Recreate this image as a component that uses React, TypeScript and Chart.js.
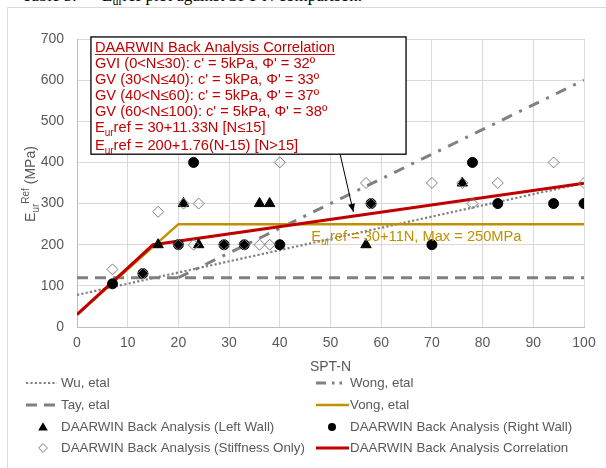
import React, { useEffect, useRef } from "react";
import { Chart, registerables } from "chart.js";
Chart.register(...registerables);

const FONT = "'Liberation Sans', Arial, sans-serif";
const GREY_TEXT = "#595959";
const RED = "#C00000";
const GOLD = "#BF9000";
const LINE_GREY = "#808080";

// ---- data ----
const wuN = [0, 100];
const wuE = [78, 350];
const wongN = [20, 100];
const wongE = [120, 600];
const tayN = [0, 100];
const tayE = [120, 120];
const vongN = [0, 20, 100];
const vongE = [30, 250, 250];
const corrN = [0, 15, 100];
const corrE = [30, 200, 349.6];
const leftWallN = [16, 21, 24, 36, 38, 57, 76];
const leftWallE = [200, 300, 200, 300, 300, 200, 350];
const rightWallN = [7, 13, 20, 23, 29, 33, 40, 58, 70, 78, 83, 94, 100];
const rightWallE = [105, 130, 200, 400, 200, 200, 200, 300, 200, 400, 300, 300, 300];
const stiffN = [7, 13, 16, 20, 21, 23, 24, 29, 33, 36, 38, 40, 57, 58, 70, 76, 78, 83, 94, 100];
const stiffE = [140, 130, 280, 200, 300, 200, 300, 200, 200, 200, 200, 400, 350, 300, 350, 350, 300, 350, 400, 350];

const legendLabels = [
  "Wu, etal",
  "Wong, etal",
  "Tay, etal",
  "Vong, etal",
  "DAARWIN Back Analysis (Left Wall)",
  "DAARWIN Back Analysis (Right Wall)",
  "DAARWIN Back Analysis (Stiffness Only)",
  "DAARWIN Back Analysis Correlation",
];

const boxTitle = "DAARWIN Back Analysis Correlation";
const boxLines = [
  "GVI (0<N\u226430): c' = 5kPa, \u03A6' = 32\u00BA",
  "GV (30<N\u226440): c' = 5kPa, \u03A6' = 33\u00BA",
  "GV (40<N\u226460): c' = 5kPa, \u03A6' = 37\u00BA",
  "GV (60<N\u2264100): c' = 5kPa, \u03A6' = 38\u00BA",
];
const boxFormulas = ["ref = 30+11.33N [N\u226415]", "ref = 200+1.76(N-15) [N>15]"];
const vongNote = "ref = 30+11N, Max = 250MPa";

const pts = (xs: number[], ys: number[]) => xs.map((x, i) => ({ x, y: ys[i] }));

type Part = { t: string; size: number; dy?: number };
function drawRich(ctx: CanvasRenderingContext2D, x: number, y: number, parts: Part[], color: string) {
  ctx.fillStyle = color;
  ctx.textAlign = "left";
  ctx.textBaseline = "alphabetic";
  let cx = x;
  for (const p of parts) {
    ctx.font = `${p.size}px ${FONT}`;
    ctx.fillText(p.t, cx, y + (p.dy || 0));
    cx += ctx.measureText(p.t).width;
  }
  return cx - x;
}
function richWidth(ctx: CanvasRenderingContext2D, parts: Part[]) {
  let w = 0;
  for (const p of parts) {
    ctx.font = `${p.size}px ${FONT}`;
    w += ctx.measureText(p.t).width;
  }
  return w;
}

const customPlugin = {
  id: "customDecor",
  beforeDraw(chart: any) {
    const ctx = chart.ctx;
    ctx.save();
    ctx.strokeStyle = "#d9d9d9";
    ctx.lineWidth = 1;
    ctx.beginPath();
    ctx.moveTo(7.5, 470);
    ctx.lineTo(7.5, 7.5);
    ctx.lineTo(610, 7.5);
    ctx.stroke();
    ctx.restore();
  },
  afterDatasetsDraw(chart: any) {
    const ctx = chart.ctx;
    const xs = chart.scales.x;
    const ys = chart.scales.y;
    ctx.save();
    // gold note
    const gx = xs.getPixelForValue(46.2);
    const gy = ys.getPixelForValue(208);
    drawRich(ctx, gx, gy, [
      { t: "E", size: 14.67 },
      { t: "ur", size: 10, dy: 4 },
      { t: vongNote, size: 14.67 },
    ], GOLD);

    // text box
    const bl = xs.getPixelForValue(2.75);
    const br = xs.getPixelForValue(64.9);
    const bt = ys.getPixelForValue(705);
    const bb = ys.getPixelForValue(420);
    ctx.fillStyle = "#ffffff";
    ctx.fillRect(bl, bt, br - bl, bb - bt);
    ctx.strokeStyle = "#000000";
    ctx.lineWidth = 1.3;
    ctx.strokeRect(bl, bt, br - bl, bb - bt);

    const tx = bl + 4;
    ctx.font = `14.67px ${FONT}`;
    ctx.fillStyle = RED;
    ctx.textBaseline = "alphabetic";
    ctx.textAlign = "left";
    ctx.fillText(boxTitle, tx, bt + 15);
    const tw = ctx.measureText(boxTitle).width;
    ctx.strokeStyle = RED;
    ctx.lineWidth = 1;
    ctx.beginPath();
    ctx.moveTo(tx, bt + 17.5);
    ctx.lineTo(tx + tw, bt + 17.5);
    ctx.stroke();
    boxLines.forEach((l, i) => {
      ctx.font = `14.67px ${FONT}`;
      ctx.fillStyle = RED;
      ctx.fillText(l, tx, bt + 31 + i * 16);
    });
    boxFormulas.forEach((f, i) => {
      drawRich(ctx, tx, bt + 95 + i * 18, [
        { t: "E", size: 14.67 },
        { t: "ur", size: 10, dy: 4 },
        { t: f, size: 14.67 },
      ], RED);
    });

    // arrow
    const ax0 = xs.getPixelForValue(51.9);
    const ay0 = bb;
    const ax1 = xs.getPixelForValue(54.5);
    const ay1 = ys.getPixelForValue(280);
    ctx.strokeStyle = "#000";
    ctx.fillStyle = "#000";
    ctx.lineWidth = 1;
    ctx.beginPath();
    ctx.moveTo(ax0, ay0);
    ctx.lineTo(ax1, ay1);
    ctx.stroke();
    const ang = Math.atan2(ay1 - ay0, ax1 - ax0);
    const hl = 8, hw = 3.5;
    ctx.beginPath();
    ctx.moveTo(ax1, ay1);
    ctx.lineTo(ax1 - hl * Math.cos(ang) + hw * Math.sin(ang), ay1 - hl * Math.sin(ang) - hw * Math.cos(ang));
    ctx.lineTo(ax1 - hl * Math.cos(ang) - hw * Math.sin(ang), ay1 - hl * Math.sin(ang) + hw * Math.cos(ang));
    ctx.closePath();
    ctx.fill();
    ctx.restore();
  },
  afterDraw(chart: any) {
    const ctx = chart.ctx;
    const area = chart.chartArea;
    ctx.save();
    // y title
    const yParts: Part[] = [
      { t: "E", size: 14 },
      { t: "ur", size: 10, dy: 4 },
      { t: "Ref", size: 10, dy: -6 },
      { t: " (MPa)", size: 14 },
    ];
    const w = richWidth(ctx, yParts);
    ctx.translate(35, (area.top + area.bottom) / 2 + 1);
    ctx.rotate(-Math.PI / 2);
    drawRich(ctx, -w / 2, 0, yParts, GREY_TEXT);
    ctx.restore();

    ctx.save();
    ctx.font = `14px ${FONT}`;
    ctx.fillStyle = GREY_TEXT;
    ctx.textAlign = "center";
    ctx.textBaseline = "middle";
    ctx.fillText("SPT-N", (area.left + area.right) / 2, 367);

    // legend
    const rows = [383, 405, 427, 448];
    const cols = [
      { l0: 26, l1: 57, mx: 43, tx: 61 },
      { l0: 316, l1: 349, mx: 332, tx: 350 },
    ];
    const ds = chart.data.datasets;
    const order = [0, 1, 2, 3, 4, 5, 6, 7];
    order.forEach((di, k) => {
      const d = ds[di];
      const r = rows[Math.floor(k / 2)];
      const c = cols[k % 2];
      ctx.save();
      if (d.showLine) {
        ctx.strokeStyle = d.borderColor;
        ctx.lineWidth = d.borderWidth;
        ctx.setLineDash(d.legendDash || d.borderDash || []);
        ctx.beginPath();
        ctx.moveTo(c.l0, r);
        ctx.lineTo(c.l1, r);
        ctx.stroke();
      } else {
        const style = d.pointStyle;
        const rad = d.pointRadius * 0.8;
        if (style === "triangle") {
          ctx.fillStyle = "#000";
          ctx.beginPath();
          ctx.moveTo(c.mx, r - rad);
          ctx.lineTo(c.mx + rad, r + rad * 0.75);
          ctx.lineTo(c.mx - rad, r + rad * 0.75);
          ctx.closePath();
          ctx.fill();
        } else if (style === "circle") {
          ctx.fillStyle = "#000";
          ctx.beginPath();
          ctx.arc(c.mx, r, rad, 0, Math.PI * 2);
          ctx.fill();
        } else {
          ctx.strokeStyle = d.borderColor;
          ctx.lineWidth = 1;
          ctx.beginPath();
          ctx.moveTo(c.mx, r - rad);
          ctx.lineTo(c.mx + rad, r);
          ctx.lineTo(c.mx, r + rad);
          ctx.lineTo(c.mx - rad, r);
          ctx.closePath();
          ctx.stroke();
        }
      }
      ctx.restore();
      ctx.font = `13.33px ${FONT}`;
      ctx.fillStyle = GREY_TEXT;
      ctx.textAlign = "left";
      ctx.textBaseline = "middle";
      ctx.fillText(legendLabels[di], c.tx, r);
    });
    ctx.restore();
  },
};

export default function App() {
  const ref = useRef<HTMLCanvasElement | null>(null);
  useEffect(() => {
    if (!ref.current) return;
    const lineDs = (label: string, xs: number[], ys: number[], color: string, width: number, dash: number[], order: number, legendDash?: number[]) => ({
      label,
      data: pts(xs, ys),
      showLine: true,
      borderColor: color,
      backgroundColor: color,
      borderWidth: width,
      borderDash: dash,
      legendDash,
      pointRadius: 0,
      pointHoverRadius: 0,
      fill: false,
      tension: 0,
      order,
    });
    const chart = new Chart(ref.current, {
      type: "scatter",
      data: {
        datasets: [
          lineDs(legendLabels[0], wuN, wuE, LINE_GREY, 2.2, [2.2, 2.2], 5),
          lineDs(legendLabels[1], wongN, wongE, LINE_GREY, 3, [11, 8, 3, 8], 6, [10, 6, 2.5, 5, 2.5, 8]),
          lineDs(legendLabels[2], tayN, tayE, LINE_GREY, 3, [11, 7], 7),
          lineDs(legendLabels[3], vongN, vongE, GOLD, 2.5, [], 4),
          {
            label: legendLabels[4],
            data: pts(leftWallN, leftWallE),
            pointStyle: "triangle",
            pointRadius: 6,
            backgroundColor: "#000",
            borderColor: "#000",
            borderWidth: 1,
            showLine: false,
            order: 2,
          },
          {
            label: legendLabels[5],
            data: pts(rightWallN, rightWallE),
            pointStyle: "circle",
            pointRadius: 5,
            backgroundColor: "#000",
            borderColor: "#000",
            borderWidth: 1,
            showLine: false,
            order: 1,
          },
          {
            label: legendLabels[6],
            data: pts(stiffN, stiffE),
            pointStyle: "rectRot",
            pointRadius: 5.5,
            backgroundColor: "rgba(0,0,0,0)",
            borderColor: "#7f7f7f",
            borderWidth: 1,
            showLine: false,
            order: 0,
          },
          lineDs(legendLabels[7], corrN, corrE, RED, 3, [], 3),
        ] as any,
      },
      options: {
        animation: false,
        responsive: false,
        devicePixelRatio: 1,
        layout: { padding: { left: 8, top: 39, right: 22, bottom: 111 } },
        plugins: { legend: { display: false }, tooltip: { enabled: false } },
        scales: {
          x: {
            type: "linear",
            min: 0,
            max: 100,
            ticks: { stepSize: 10, color: GREY_TEXT, font: { family: FONT, size: 14 }, padding: 8, maxRotation: 0 },
            grid: { color: "#d9d9d9", lineWidth: 1, drawTicks: false },
            border: { color: "#bfbfbf", width: 1 },
            afterFit: (s: any) => { s.height = 30; },
          },
          y: {
            type: "linear",
            min: 0,
            max: 700,
            ticks: { stepSize: 100, color: GREY_TEXT, font: { family: FONT, size: 14 }, padding: 13 },
            grid: { color: "#d9d9d9", lineWidth: 1, drawTicks: false },
            border: { color: "#bfbfbf", width: 1 },
            afterFit: (s: any) => { s.width = 69; },
          },
        },
      } as any,
      plugins: [customPlugin],
    });
    return () => chart.destroy();
  }, []);
  return (
    <div style={{ position: "fixed", left: 0, top: 0, width: 606, height: 468, background: "#fff", overflow: "hidden" }}>
      <div
        style={{
          position: "absolute",
          left: 22,
          top: -13,
          fontFamily: "'Liberation Serif', 'Times New Roman', serif",
          fontSize: 17,
          lineHeight: "17px",
          whiteSpace: "nowrap",
          color: "#000",
        }}
      >
        Table 5.&nbsp;&nbsp;&nbsp;&nbsp;&nbsp;&nbsp;E<sub style={{ fontSize: 12 }}>ur</sub>ref plot against SPT-N comparison.
      </div>
      <canvas ref={ref} width={606} height={468} style={{ position: "absolute", left: 0, top: 0, width: 606, height: 468 }} />
    </div>
  );
}
